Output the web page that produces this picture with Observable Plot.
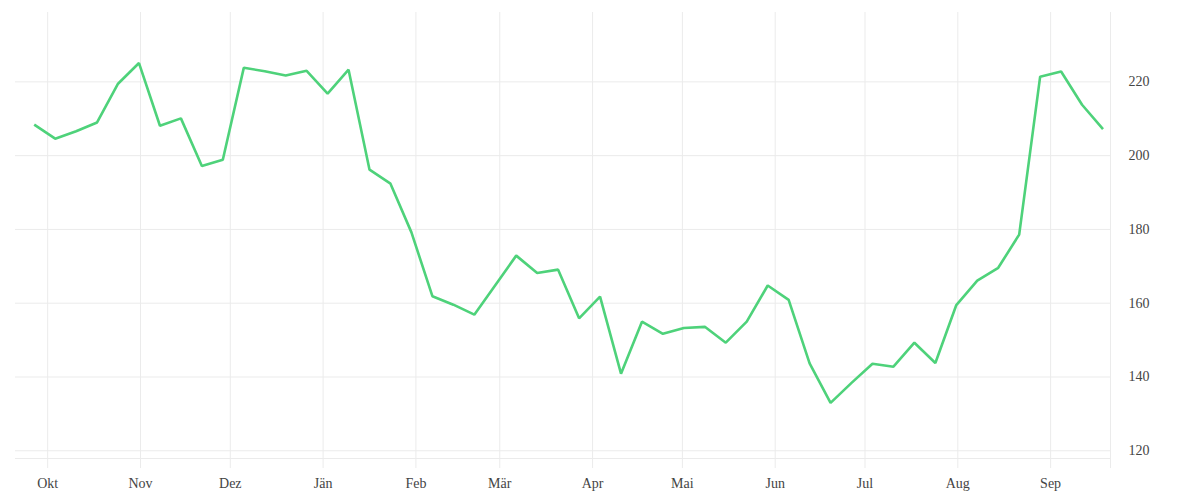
<!DOCTYPE html>
<html>
<head>
<meta charset="utf-8">
<script src="https://cdn.jsdelivr.net/npm/d3@7"></script>
<script src="https://cdn.jsdelivr.net/npm/@observablehq/plot@0.6"></script>
<style>
  html, body { margin: 0; padding: 0; background: #fff; }
  #chart svg { display: block; }
</style>
</head>
<body>
<div id="chart"></div>
<script>
const dates = [
  "2021-09-26","2021-10-03","2021-10-10","2021-10-17","2021-10-24","2021-10-31",
  "2021-11-07","2021-11-14","2021-11-21","2021-11-28","2021-12-05","2021-12-12",
  "2021-12-19","2021-12-26","2022-01-02","2022-01-09","2022-01-16","2022-01-23",
  "2022-01-30","2022-02-06","2022-02-13","2022-02-20","2022-02-27","2022-03-06",
  "2022-03-13","2022-03-20","2022-03-27","2022-04-03","2022-04-10","2022-04-17",
  "2022-04-24","2022-05-01","2022-05-08","2022-05-15","2022-05-22","2022-05-29",
  "2022-06-05","2022-06-12","2022-06-19","2022-06-26","2022-07-03","2022-07-10",
  "2022-07-17","2022-07-24","2022-07-31","2022-08-07","2022-08-14","2022-08-21",
  "2022-08-28","2022-09-04","2022-09-11","2022-09-18"
];
const values = [
  208.4,204.6,206.6,209.0,219.5,225.1,208.1,210.1,197.2,198.9,
  223.8,222.9,221.7,223.0,216.8,223.3,196.2,192.4,179.2,161.9,
  159.6,156.9,164.9,172.9,168.2,169.1,155.9,161.8,140.9,155.0,
  151.7,153.3,153.6,149.3,155.0,164.8,160.9,143.7,133.0,138.4,
  143.6,142.8,149.3,143.8,159.5,166.1,169.6,178.6,221.4,222.8,
  213.8,207.2
];
const monthTicks = [
  "2021-10-01","2021-11-01","2021-12-01","2022-01-01","2022-02-01","2022-03-01",
  "2022-04-01","2022-05-01","2022-06-01","2022-07-01","2022-08-01","2022-09-01"
];
const monthNames = ["Jän","Feb","Mär","Apr","Mai","Jun","Jul","Aug","Sep","Okt","Nov","Dez"];
const yTicks = [120, 140, 160, 180, 200, 220];
const xDomain = ["2021-09-20T06:00Z", "2022-09-21T00:00Z"];
const yDomain = [115.2, 238.8];

const parse = s => new Date(s.length === 10 ? s + "T00:00Z" : s);
const data = dates.map((d, i) => ({date: new Date(d + "T12:00Z"), value: values[i]}));
const tickDates = monthTicks.map(parse);
const gridColor = "#ebebeb";
const font = "'Liberation Serif', serif";

const chart = Plot.plot({
  width: 1200,
  height: 500,
  marginTop: 12,
  marginBottom: 32,
  marginLeft: 15,
  marginRight: 90,
  style: {fontFamily: font, fontSize: "14px", color: "#444", background: "#fff"},
  x: {type: "utc", domain: xDomain.map(parse)},
  y: {domain: yDomain},
  marks: [
    Plot.gridX(tickDates, {stroke: gridColor, strokeOpacity: 1, strokeWidth: 1}),
    Plot.gridY(yTicks, {stroke: gridColor, strokeOpacity: 1, strokeWidth: 1}),
    Plot.ruleY([117.9], {stroke: gridColor, strokeWidth: 1}),
    Plot.ruleX([parse(xDomain[1])], {stroke: gridColor, strokeWidth: 1}),
    Plot.axisX(tickDates, {
      tickSize: 0, tickPadding: 10,
      tickFormat: d => monthNames[d.getUTCMonth()],
      fill: "#444", fontSize: 14, label: null
    }),
    Plot.axisY(yTicks, {
      anchor: "right", tickSize: 0, tickPadding: 18, textAnchor: "start",
      fill: "#444", fontSize: 14, label: null
    }),
    Plot.line(data, {x: "date", y: "value", stroke: "#4ed27a", strokeWidth: 2.6, strokeLinejoin: "miter", strokeLinecap: "butt"})
  ]
});
document.getElementById("chart").appendChild(chart);
</script>
</body>
</html>
